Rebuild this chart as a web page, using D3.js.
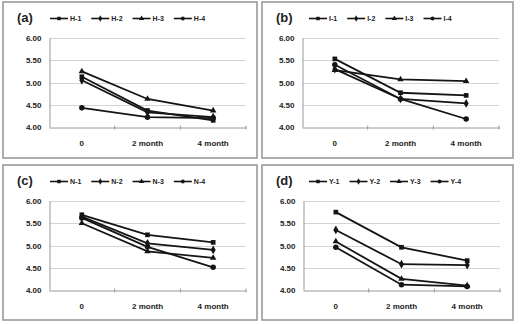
<!DOCTYPE html>
<html lang="en">
<head>
  <meta charset="UTF-8">
  <title>Four panel line charts</title>
  <style>
body { margin: 0; background: #fff; }
svg text { font-family: "Liberation Sans", Arial, sans-serif; font-weight: bold; fill: #222; }
  </style>
</head>
<body>
  <div id="chart"></div>
  <script src="https://d3js.org/d3.v7.min.js"></script>
  <script>
// data
const months = ["0", "2 month", "4 month"];
const yTicks = [4.00, 4.50, 5.00, 5.50, 6.00];
const panelLabels = ["(a)", "(b)", "(c)", "(d)"];

const hNames = ["H-1", "H-2", "H-3", "H-4"];
const hValues = [
  [5.13, 4.37, 4.15],
  [5.05, 4.33, 4.22],
  [5.25, 4.63, 4.37],
  [4.43, 4.22, 4.20]
];

const iNames = ["I-1", "I-2", "I-3", "I-4"];
const iValues = [
  [5.53, 4.77, 4.71],
  [5.30, 4.63, 4.53],
  [5.28, 5.07, 5.03],
  [5.40, 4.63, 4.18]
];

const nNames = ["N-1", "N-2", "N-3", "N-4"];
const nValues = [
  [5.69, 5.24, 5.07],
  [5.65, 5.05, 4.90],
  [5.50, 4.87, 4.72],
  [5.62, 4.97, 4.51]
];

const yNames = ["Y-1", "Y-2", "Y-3", "Y-4"];
const yValues = [
  [5.75, 4.96, 4.66],
  [5.35, 4.58, 4.56],
  [5.09, 4.25, 4.10],
  [4.96, 4.12, 4.08]
];

const panelData = [
  { names: hNames, values: hValues },
  { names: iNames, values: iValues },
  { names: nNames, values: nValues },
  { names: yNames, values: yValues }
];

// layout
const width = 523, height = 324;
const boxes = [
  { x: 3, y: 2, w: 254, h: 156, plotLeft: 46 },
  { x: 262, y: 2, w: 251, h: 156, plotLeft: 40 },
  { x: 3, y: 165, w: 254, h: 155, plotLeft: 46 },
  { x: 262, y: 165, w: 251, h: 155, plotLeft: 41 }
];
const symbols = [d3.symbolSquare, d3.symbolDiamond, d3.symbolTriangle, d3.symbolCircle];
const symSizes = [22, 22, 18, 24];

const svg = d3.select("#chart").append("svg")
  .attr("width", width)
  .attr("height", height);

boxes.forEach((b, p) => {
  const g = svg.append("g").attr("transform", `translate(${b.x},${b.y})`);

  g.append("rect")
    .attr("x", 0).attr("y", 0)
    .attr("width", b.w).attr("height", b.h)
    .attr("fill", "#fff")
    .attr("stroke", "#9a9a9a")
    .attr("stroke-width", 1.6);

  const x = d3.scaleBand()
    .domain(months)
    .range([b.plotLeft, b.plotLeft + 197]);

  const y = d3.scaleLinear()
    .domain([4, 6])
    .range([125, 36]);

  // gridlines
  g.append("g")
    .selectAll("line")
    .data(yTicks.filter(t => t > 4))
    .join("line")
    .attr("x1", x.range()[0]).attr("x2", x.range()[1])
    .attr("y1", d => Math.round(y(d)) + 0.5).attr("y2", d => Math.round(y(d)) + 0.5)
    .attr("stroke", "#d4d4d4")
    .attr("stroke-width", 1.2);

  // y axis
  const yAxis = g.append("g")
    .attr("transform", `translate(${x.range()[0] + 0.5},0)`)
    .call(d3.axisLeft(y).tickValues(yTicks).tickFormat(d3.format(".2f")).tickSize(0).tickPadding(8));
  yAxis.select(".domain").attr("stroke", "#9a9a9a");
  yAxis.selectAll("text").style("font-size", "8px").attr("fill", "#222");

  // x axis
  const xAxis = g.append("g")
    .attr("transform", `translate(0,${Math.round(y(4)) + 0.5})`)
    .call(d3.axisBottom(x).tickSize(0).tickPadding(13));
  xAxis.select(".domain").attr("stroke", "#9a9a9a");
  xAxis.selectAll("text").style("font-size", "8px").attr("fill", "#222");
  // small tick marks at category boundaries
  xAxis.append("g")
    .selectAll("line")
    .data(months.slice(1).concat(["end"]))
    .join("line")
    .attr("x1", (d, i) => i < 2 ? x(d) : x.range()[1])
    .attr("x2", (d, i) => i < 2 ? x(d) : x.range()[1])
    .attr("y1", -2).attr("y2", 2)
    .attr("stroke", "#9a9a9a");

  // panel label
  g.append("text")
    .attr("x", 14).attr("y", 20)
    .style("font-size", "13px")
    .attr("fill", "#111")
    .text(panelLabels[p]);

  const data = panelData[p];
  const line = d3.line()
    .x((d, i) => x(months[i]) + x.bandwidth() / 2)
    .y(d => y(d));

  data.values.forEach((vals, s) => {
    g.append("path")
      .attr("d", line(vals))
      .attr("fill", "none")
      .attr("stroke", "#151515")
      .attr("stroke-width", 1.8);
    g.append("g")
      .selectAll("path")
      .data(vals)
      .join("path")
      .attr("transform", (d, i) => `translate(${x(months[i]) + x.bandwidth() / 2},${y(d)})`)
      .attr("d", d3.symbol().type(symbols[s]).size(symSizes[s]))
      .attr("fill", "#151515");
  });

  // legend
  let lx = 47;
  const ly = 16.5;
  data.names.forEach((name, s) => {
    const item = g.append("g");
    item.append("line")
      .attr("x1", lx).attr("x2", lx + 18)
      .attr("y1", ly).attr("y2", ly)
      .attr("stroke", "#151515")
      .attr("stroke-width", 1.6);
    item.append("path")
      .attr("transform", `translate(${lx + 9},${ly})`)
      .attr("d", d3.symbol().type(symbols[s]).size(12))
      .attr("fill", "#151515");
    const t = item.append("text")
      .attr("x", lx + 20).attr("y", ly)
      .attr("dy", "0.35em")
      .style("font-size", "7px")
      .text(name);
    lx += 20 + t.node().getComputedTextLength() + 10;
  });
});
  </script>
</body>
</html>
